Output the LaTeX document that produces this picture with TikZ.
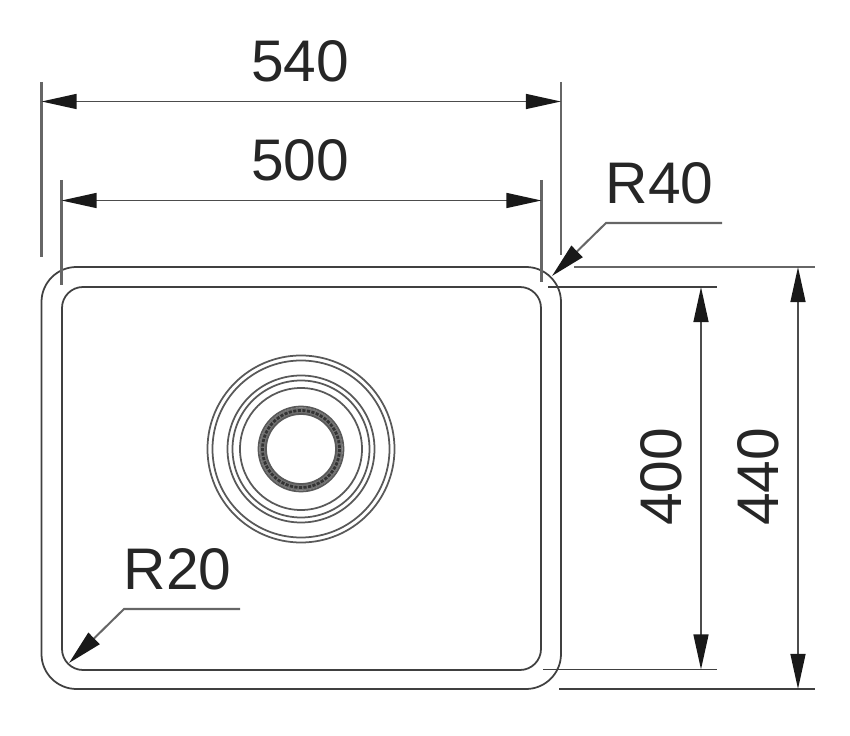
\documentclass[tikz,border=0pt]{standalone}
\usepackage{fontspec}
\setmainfont{Liberation Sans}
\usetikzlibrary{arrows.meta}
\tikzset{
	outline/.style={draw=black!75, line width=1pt},
	ring/.style={draw=black!65, line width=1pt},
	extline/.style={draw=black!60, line width=1.15pt},
	dimline/.style={draw=black!70, line width=1pt, {Triangle[length=20pt, width=8.5pt, color=black!90]}-{Triangle[length=20pt, width=8.5pt, color=black!90]}},
	leader/.style={draw=black!60, line width=1.15pt, -{Triangle[length=20pt, width=9pt, color=black!90]}},
	dimtext/.style={font=\fontsize{33.4}{33.4}\selectfont, text=black!85, inner sep=0pt}
}
\begin{document}
\begin{tikzpicture}[x=0.02cm, y=-0.02cm]
	\useasboundingbox (0, 0) rectangle (850, 736);

	\draw[outline, rounded corners=0.7cm] (41.5, 267) rectangle (561, 689);
	\draw[outline, rounded corners=0.42cm] (62, 287) rectangle (541, 670);

	\foreach \r in {93.5, 88.5, 73.5, 68.5, 61}
		\draw[ring] (301, 449) circle (\r);
	\draw[draw=black!55, line width=3.6pt] (301, 449) circle (38.5);
	\draw[draw=black!80, line width=1.6pt, dash pattern=on 1.8pt off 0.8pt] (301, 449) circle (38.5);
	\draw[ring] (301, 449) circle (42.5);
	\draw[ring] (301, 449) circle (35);

	\coordinate (L1a) at (41.5, 82);
	\coordinate (L1b) at (41.5, 257);
	\coordinate (L2a) at (61.5, 180);
	\coordinate (L2b) at (61.5, 285);
	\coordinate (R1a) at (561, 82);
	\coordinate (R1b) at (561, 255);
	\coordinate (R2a) at (541.5, 180);
	\coordinate (R2b) at (541.5, 282);
	\coordinate (T1a) at (574, 267);
	\coordinate (T1b) at (815, 267);
	\coordinate (T2a) at (548, 287);
	\coordinate (T2b) at (717, 287);
	\coordinate (B2a) at (543, 669.5);
	\coordinate (B2b) at (717, 669.5);
	\coordinate (B1a) at (559, 689);
	\coordinate (B1b) at (815, 689);

	\path (L1a) edge[extline] (L1b);
	\path (L2a) edge[extline] (L2b);
	\path (R1a) edge[extline] (R1b);
	\path (R2a) edge[extline] (R2b);
	\path (T1a) edge[extline] (T1b);
	\path (T2a) edge[outline] (T2b);
	\path (B2a) edge[outline] (B2b);
	\path (B1a) edge[outline] (B1b);

	\coordinate (w540a) at (41.5, 101.5);
	\coordinate (w540b) at (561, 101.5);
	\coordinate (w500a) at (61.5, 200.5);
	\coordinate (w500b) at (541.5, 200.5);
	\coordinate (h400a) at (701, 287);
	\coordinate (h400b) at (701, 669.5);
	\coordinate (h440a) at (798, 267);
	\coordinate (h440b) at (798, 689);

	\path (w540a) edge[dimline] (w540b);
	\path (w500a) edge[dimline] (w500b);
	\path (h400a) edge[dimline] (h400b);
	\path (h440a) edge[dimline] (h440b);

	\coordinate (r40end) at (722, 223);
	\coordinate (r40knee) at (606, 223);
	\coordinate (r40tip) at (552, 276);
	\coordinate (r20end) at (240, 609);
	\coordinate (r20knee) at (124, 609);
	\coordinate (r20tip) at (69, 663);

	\draw[leader] (r40end) -- (r40knee) -- (r40tip);
	\draw[leader] (r20end) -- (r20knee) -- (r20tip);

	\node[dimtext] (t540) at (300, 61) {540};
	\node[dimtext] (t500) at (300, 160) {500};
	\node[dimtext] (tr40) at (659.5, 183) {R40};
	\node[dimtext] (tr20) at (177.5, 569) {R20};
	\node[dimtext, rotate=90] (t400) at (661, 477) {400};
	\node[dimtext, rotate=90] (t440) at (758, 477) {440};
\end{tikzpicture}
\end{document}
